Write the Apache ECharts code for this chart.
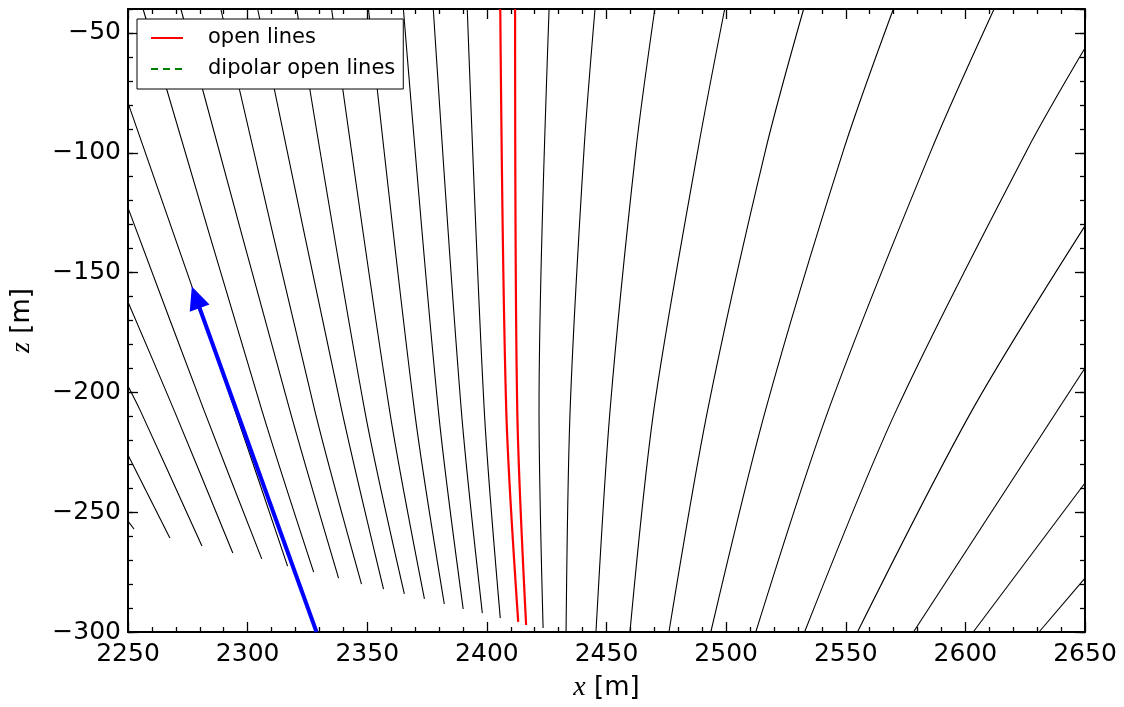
<!DOCTYPE html>
<html>
<head>
<meta charset="utf-8">
<script src="https://cdn.jsdelivr.net/npm/echarts@6/dist/echarts.min.js"></script>
<style>html,body{margin:0;padding:0;background:#fff;}#chart{width:1124px;height:707px;}</style>
</head>
<body>
<div id="chart"></div>
<script>
// Axis ranges
const xRange = [2250, 2650];
const yRange = [-300, -40];
const xStep = 50;
const yStep = 50;
const yMinorStep = 10;

// Black field lines (x [m], z [m])
const fl01 = [[2250,-253.7],[2252.5,-257.0]];
const fl02 = [[2250,-226.1],[2267.5,-260.8]];
const fl03 = [[2250,-197.3],[2255.0,-207.3],[2280.9,-264.1]];
const fl04 = [[2250,-162.3],[2269.2,-207.3],[2293.8,-267.0]];
const fl05 = [[2250,-123.0],[2281.7,-207.3],[2305.9,-269.5]];
const fl06 = [[2250,-79.2],[2294.6,-207.3],[2316.7,-272.5]];
const fl07 = [[2256.3,-40],[2305.9,-207.3],[2327.6,-275.0]];
const fl08 = [[2272.1,-40],[2317.6,-207.3],[2338.0,-277.5]];
const fl09 = [[2288.8,-40],[2328.0,-207.3],[2347.6,-280.0]];
const fl10 = [[2304.2,-40],[2339.3,-207.3],[2356.8,-282.1]];
const fl11 = [[2320.5,-40],[2348.9,-207.3],[2365.5,-284.1]];
const fl12 = [[2335.1,-40],[2359.3,-207.3],[2373.9,-286.2]];
const fl13 = [[2350.5,-40],[2369.7,-207.3],[2382.2,-288.3]];
const fl14 = [[2365.1,-40],[2379.7,-207.3],[2390.1,-290.4]];
const fl15 = [[2377.6,-40],[2389.3,-207.3],[2398.1,-292.1]];
const fl16 = [[2391.8,-40],[2398.9,-207.3],[2405.6,-294.2]];
const fl17 = [[2426.0,-40],[2421.8,-207.3],[2423.5,-298.3]];
const fl18 = [[2445.2,-40],[2440.6,-98.8],[2434.8,-207.3],[2433.1,-300]];
const fl19 = [[2470.2,-40],[2462.3,-98.8],[2451.5,-207.3],[2445.6,-300]];
const fl20 = [[2499.4,-40],[2488.2,-98.8],[2469.8,-207.3],[2459.8,-300]];
const fl21 = [[2532.4,-40],[2516.5,-98.8],[2492.3,-207.3],[2476.1,-300]];
const fl22 = [[2569.9,-40],[2549.1,-98.8],[2516.5,-207.3],[2493.6,-300]];
const fl23 = [[2612.0,-40],[2585.8,-98.8],[2542.8,-207.3],[2512.4,-300]];
const fl24 = [[2650,-56.3],[2625.8,-98.8],[2571.2,-207.3],[2532.8,-300]];
const fl25 = [[2650,-130.5],[2602.9,-207.3],[2554.9,-300]];
const fl26 = [[2650,-189.8],[2578.3,-300]];
const fl27 = [[2650,-237.8],[2603.3,-300]];
const fl28 = [[2650,-277.5],[2630.8,-300]];

// Open lines (red)
const openLine1 = [[2405.6,-40],[2408.1,-207.3],[2413.1,-295.8]];
const openLine2 = [[2411.8,-40],[2412.7,-207.3],[2416.4,-297.1]];
// Dipolar open lines (none visible)
const dipolarLines = [];
// Arrow (start, head)
const arrowStart = [2328.8, -300];
const arrowEnd = [2278.3, -160.3];

const blackLines = [fl01,fl02,fl03,fl04,fl05,fl06,fl07,fl08,fl09,fl10,fl11,fl12,fl13,fl14,
  fl15,fl16,fl17,fl18,fl19,fl20,fl21,fl22,fl23,fl24,fl25,fl26,fl27,fl28];

const minus = v => String(v).replace('-', '\u2212');
const plain = v => String(v);
const FONT = 'DejaVu Sans';

const axisLineStyle = {show: true, lineStyle: {color: '#000', width: 2}};
const tickStyle = {color: '#000', width: 1.3};

const series = [];
blackLines.forEach(d => series.push({
  type: 'line', data: d, symbol: 'none', smooth: 0.3, silent: true,
  lineStyle: {color: '#000', width: 1.1}, z: 2
}));
[openLine1, openLine2].forEach(d => series.push({
  name: 'open lines', type: 'line', data: d, symbol: 'none', smooth: 0.3, silent: true,
  lineStyle: {color: '#ff0000', width: 2.2}, itemStyle: {color: '#ff0000'}, z: 3
}));
series.push({
  name: 'dipolar open lines', type: 'line', data: dipolarLines, symbol: 'none',
  lineStyle: {color: '#008000', width: 2.2, type: [7, 5]}, itemStyle: {color: '#008000'}
});
series.push({
  type: 'line', data: [], symbol: 'none', silent: true,
  markLine: {
    silent: true, animation: false,
    symbol: ['none', 'triangle'], symbolSize: [21, 23],
    label: {show: false},
    lineStyle: {color: '#0000ff', width: 4, type: 'solid'},
    itemStyle: {color: '#0000ff'},
    data: [[{coord: arrowStart}, {coord: arrowEnd}]]
  },
  z: 5
});

const chart = echarts.init(document.getElementById('chart'), null, {renderer: 'canvas'});
chart.setOption({
  animation: false,
  backgroundColor: '#fff',
  grid: {left: 126, right: 39, top: 9, bottom: 75},
  legend: {
    data: ['open lines', 'dipolar open lines'],
    orient: 'vertical', left: 137, top: 19,
    padding: [7, 8, 8, 13],
    itemWidth: 32, itemHeight: 14, itemGap: 7,
    backgroundColor: '#fff', borderColor: '#000', borderWidth: 1, borderRadius: 0,
    selectedMode: false,
    itemStyle: {color: 'rgba(0,0,0,0)', borderColor: 'rgba(0,0,0,0)', borderWidth: 0},
    textStyle: {fontFamily: FONT, fontSize: 21, color: '#000', lineHeight: 24, padding: [0, 0, 0, 20]},
    z: 20
  },
  xAxis: [{
    type: 'value', min: xRange[0], max: xRange[1], interval: xStep, position: 'bottom',
    axisLine: axisLineStyle,
    axisTick: {inside: true, length: 10, lineStyle: tickStyle},
    minorTick: {show: true, splitNumber: 5, length: 5, lineStyle: tickStyle},
    splitLine: {show: false},
    axisLabel: {fontFamily: FONT, fontSize: 25, color: '#000', margin: 10, formatter: plain},
    name: '{i|x} [m]', nameLocation: 'middle', nameGap: 42,
    nameTextStyle: {fontFamily: FONT, fontSize: 26, color: '#000',
      rich: {i: {fontFamily: 'Liberation Serif', fontStyle: 'italic', fontSize: 28, color: '#000'}}}
  }, {
    type: 'value', min: xRange[0], max: xRange[1], interval: xStep, position: 'top',
    axisLine: axisLineStyle,
    axisTick: {inside: true, length: 10, lineStyle: tickStyle},
    minorTick: {show: true, splitNumber: 5, length: 5, lineStyle: tickStyle},
    splitLine: {show: false}, axisLabel: {show: false}
  }],
  yAxis: [{
    type: 'value', min: yRange[0], max: yRange[1], interval: yStep, position: 'left',
    axisLine: axisLineStyle,
    axisTick: {inside: true, length: 10, lineStyle: tickStyle},
    splitLine: {show: false},
    axisLabel: {fontFamily: FONT, fontSize: 25, color: '#000', margin: 7, showMaxLabel: false, formatter: minus},
    name: '{i|z} [m]', nameLocation: 'middle', nameGap: 92,
    nameTextStyle: {fontFamily: FONT, fontSize: 26, color: '#000',
      rich: {i: {fontFamily: 'Liberation Serif', fontStyle: 'italic', fontSize: 28, color: '#000'}}}
  }, {
    type: 'value', min: yRange[0], max: yRange[1], interval: yStep, position: 'right',
    axisLine: axisLineStyle,
    axisTick: {inside: true, length: 10, lineStyle: tickStyle},
    splitLine: {show: false}, axisLabel: {show: false}
  }, {
    type: 'value', min: yRange[0], max: yRange[1], interval: yMinorStep, position: 'left', offset: 0,
    axisLine: {show: false},
    axisTick: {inside: true, length: 5, lineStyle: tickStyle},
    splitLine: {show: false}, axisLabel: {show: false}
  }, {
    type: 'value', min: yRange[0], max: yRange[1], interval: yMinorStep, position: 'right', offset: 0,
    axisLine: {show: false},
    axisTick: {inside: true, length: 5, lineStyle: tickStyle},
    splitLine: {show: false}, axisLabel: {show: false}
  }],
  series: series
});
</script>
</body>
</html>
